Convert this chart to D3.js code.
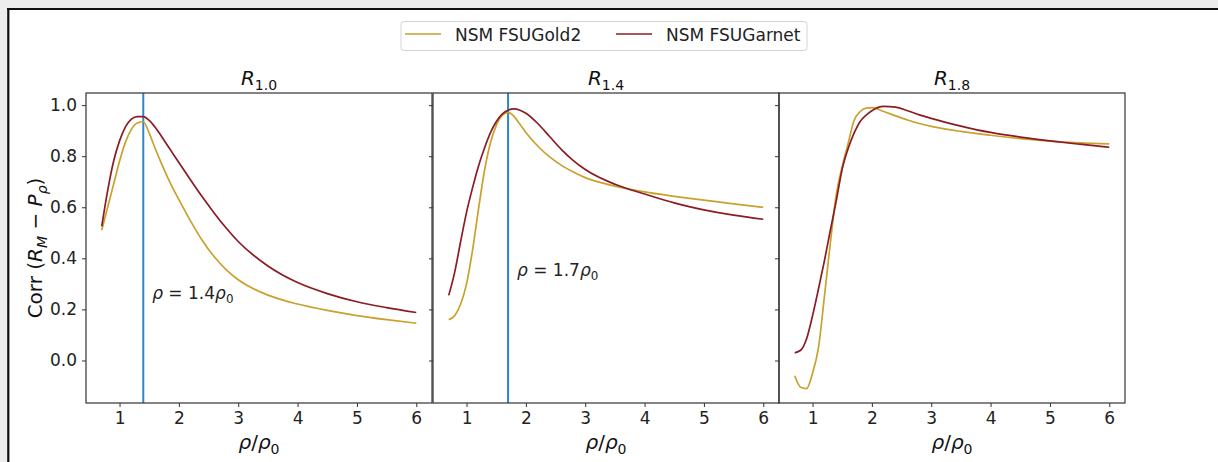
<!DOCTYPE html>
<html lang="en">
<head>
    <meta charset="UTF-8">
    <title>Corr (R_M - P_rho)</title>
    <script src="https://d3js.org/d3.v7.min.js"></script>
    <style>
        body {
            margin: 0;
            font-family: "DejaVu Sans", sans-serif;
        }
        svg {
            display: block;
        }
    </style>
</head>
<body>

    <div id="container"></div>

    <script>

        // density grid (rho / rho0)
        const xGrid = [0.7, 0.8, 0.9, 1.0, 1.1, 1.2, 1.3, 1.4, 1.5, 1.6, 1.7, 1.8, 1.9, 2.0,
                       2.2, 2.4, 2.6, 2.8, 3.0, 3.5, 4.0, 4.5, 5.0, 5.5, 6.0];

        // R_1.0
        const gold10 = [0.51, 0.60, 0.69, 0.78, 0.855, 0.905, 0.93, 0.935, 0.89, 0.83, 0.775, 0.722, 0.674, 0.63,
                        0.545, 0.468, 0.405, 0.355, 0.316, 0.256, 0.221, 0.196, 0.176, 0.16, 0.146];
        const garnet10 = [0.525, 0.665, 0.78, 0.86, 0.915, 0.945, 0.955, 0.955, 0.94, 0.913, 0.88, 0.845, 0.81, 0.775,
                          0.706, 0.639, 0.576, 0.518, 0.466, 0.37, 0.305, 0.262, 0.23, 0.207, 0.188];

        // R_1.4
        const gold14 = [0.16, 0.175, 0.22, 0.30, 0.43, 0.59, 0.74, 0.85, 0.92, 0.96, 0.972, 0.956, 0.925, 0.893,
                        0.84, 0.797, 0.764, 0.738, 0.716, 0.683, 0.66, 0.643, 0.628, 0.613, 0.60];
        const garnet14 = [0.255, 0.345, 0.465, 0.58, 0.675, 0.76, 0.83, 0.89, 0.935, 0.965, 0.98, 0.985, 0.98, 0.968,
                          0.928, 0.877, 0.826, 0.783, 0.748, 0.69, 0.652, 0.617, 0.59, 0.569, 0.553];

        // R_1.8
        const gold18 = [-0.06, -0.105, -0.11, -0.05, 0.05, 0.25, 0.46, 0.65, 0.76, 0.85, 0.94, 0.974, 0.988, 0.99,
                        0.975, 0.958, 0.942, 0.928, 0.917, 0.897, 0.882, 0.869, 0.859, 0.852, 0.848];
        const garnet18 = [0.03, 0.04, 0.085, 0.175, 0.28, 0.39, 0.51, 0.625, 0.75, 0.83, 0.89, 0.935, 0.96, 0.978,
                          0.995, 0.992, 0.978, 0.962, 0.948, 0.918, 0.893, 0.875, 0.86, 0.847, 0.835];

        const panelNames = ['1.0', '1.4', '1.8'];
        const goldSeries = [gold10, gold14, gold18];
        const garnetSeries = [garnet10, garnet14, garnet18];
        const markerRho = [1.4, 1.7, null];      // vertical line, rho/rho0
        const markerText = ['1.4', '1.7', null];
        const markerTextAt = [[1.55, 0.24], [1.85, 0.33], null];

        const seriesNames = ['NSM FSUGold2', 'NSM FSUGarnet'];
        const seriesColors = ['#c9a12c', '#8b1c24'];

        const xTicks = [1, 2, 3, 4, 5, 6];
        const yTicks = [0.0, 0.2, 0.4, 0.6, 0.8, 1.0];

        // layout
        const W = 1218, H = 462;
        const panelLeft = [86, 433, 779];
        const panelW = 346;
        const plotTop = 93, plotBottom = 403;

        const svg = d3.select('#container').append('svg')
            .attr('width', W)
            .attr('height', H);

        // page background + frame
        svg.append('rect').attr('width', W).attr('height', H).attr('fill', '#ededed');
        svg.append('rect').attr('x', 8).attr('y', 9).attr('width', W - 8).attr('height', H - 9).attr('fill', '#fff');
        svg.append('line').attr('x1', 7).attr('x2', W).attr('y1', 9).attr('y2', 9)
            .attr('stroke', '#111').attr('stroke-width', 2.2);
        svg.append('line').attr('x1', 8.3).attr('x2', 8.3).attr('y1', 8).attr('y2', H)
            .attr('stroke', '#111').attr('stroke-width', 2.2);

        // helper for mathtext-ish labels: parts = [text, italic, sub]
        function mathText(sel, parts, size) {
            let shift = 0;
            parts.forEach(function(p) {
                const want = p[2] ? size * 0.25 : 0;
                sel.append('tspan')
                    .attr('dy', want - shift)
                    .attr('font-style', p[1] ? 'italic' : 'normal')
                    .attr('font-size', p[2] ? size * 0.7 : size)
                    .text(p[0]);
                shift = want;
            });
            return sel;
        }

        const y = d3.scaleLinear()
            .domain([-0.1665, 1.0475])
            .range([plotBottom, plotTop]);

        panelNames.forEach(function(name, i) {
            const left = panelLeft[i];
            const x = d3.scaleLinear()
                .domain([0.435, 6.265])
                .range([left, left + panelW]);

            const g = svg.append('g');

            // vertical marker
            if (markerRho[i] !== null) {
                g.append('line')
                    .attr('x1', x(markerRho[i])).attr('x2', x(markerRho[i]))
                    .attr('y1', plotTop).attr('y2', plotBottom)
                    .attr('stroke', '#2e86c6')
                    .attr('stroke-width', 2);

                const t = g.append('text')
                    .attr('x', x(markerTextAt[i][0]))
                    .attr('y', y(markerTextAt[i][1]))
                    .attr('fill', '#222');
                mathText(t, [['\u03c1', true, false], [' = ', false, false],
                             [markerText[i], false, false], ['\u03c1', true, false], ['0', false, true]], 17);
            }

            // curves
            [goldSeries[i], garnetSeries[i]].forEach(function(vals, k) {
                const pts = xGrid.map((xv, j) => [xv, vals[j]]);
                g.append('path')
                    .datum(pts)
                    .attr('fill', 'none')
                    .attr('stroke', seriesColors[k])
                    .attr('stroke-width', 1.7)
                    .attr('stroke-linejoin', 'round')
                    .attr('d', d3.line()
                        .x(d => x(d[0]))
                        .y(d => y(d[1]))
                        .curve(d3.curveMonotoneX));
            });

            // x axis
            const xAxis = g.append('g')
                .attr('transform', 'translate(0,' + plotBottom + ')')
                .call(d3.axisBottom(x).tickValues(xTicks).tickSize(4).tickPadding(5).tickFormat(d3.format('d')));
            xAxis.select('.domain').remove();
            xAxis.selectAll('line').attr('stroke', '#333');
            xAxis.selectAll('text').attr('font-size', 17).attr('fill', '#222')
                .attr('font-family', '"DejaVu Sans", sans-serif');

            // y axis (labels only on first panel)
            const yAxis = g.append('g')
                .attr('transform', 'translate(' + left + ',0)')
                .call(d3.axisLeft(y).tickValues(yTicks).tickSize(4).tickPadding(5)
                    .tickFormat(i === 0 ? d3.format('.1f') : ''));
            yAxis.select('.domain').remove();
            yAxis.selectAll('line').attr('stroke', '#333');
            yAxis.selectAll('text').attr('font-size', 17).attr('fill', '#222')
                .attr('font-family', '"DejaVu Sans", sans-serif');

            // frame
            g.append('rect')
                .attr('x', left).attr('y', plotTop)
                .attr('width', panelW).attr('height', plotBottom - plotTop)
                .attr('fill', 'none')
                .attr('stroke', '#333')
                .attr('stroke-width', 1.2);

            // title
            const title = g.append('text')
                .attr('x', left + panelW / 2)
                .attr('y', 85)
                .attr('text-anchor', 'middle')
                .attr('fill', '#111');
            mathText(title, [['R', true, false], [name, false, true]], 20);

            // x label
            const xl = g.append('text')
                .attr('x', left + panelW / 2)
                .attr('y', 449)
                .attr('text-anchor', 'middle')
                .attr('fill', '#111');
            mathText(xl, [['\u03c1', true, false], ['/', false, false], ['\u03c1', true, false], ['0', false, true]], 20);
        });

        // y label
        const yl = svg.append('text')
            .attr('transform', 'translate(42,' + ((plotTop + plotBottom) / 2) + ') rotate(-90)')
            .attr('text-anchor', 'middle')
            .attr('fill', '#111');
        mathText(yl, [['Corr (', false, false], ['R', true, false], ['M', true, true],
                      [' \u2212 ', false, false], ['P', true, false], ['\u03c1', true, true], [')', false, false]], 20);

        // legend
        const leg = svg.append('g');
        leg.append('rect')
            .attr('x', 401).attr('y', 21.5)
            .attr('width', 406).attr('height', 29)
            .attr('rx', 3)
            .attr('fill', '#fff')
            .attr('stroke', '#d4d4d4');
        const legX = [405, 616];
        seriesNames.forEach(function(s, k) {
            leg.append('line')
                .attr('x1', legX[k]).attr('x2', legX[k] + 36)
                .attr('y1', 34).attr('y2', 34)
                .attr('stroke', seriesColors[k])
                .attr('stroke-width', 1.7);
            leg.append('text')
                .attr('x', legX[k] + 50)
                .attr('y', 40.5)
                .attr('font-size', 17)
                .attr('fill', '#222')
                .text(s);
        });

    </script>

</body>
</html>
